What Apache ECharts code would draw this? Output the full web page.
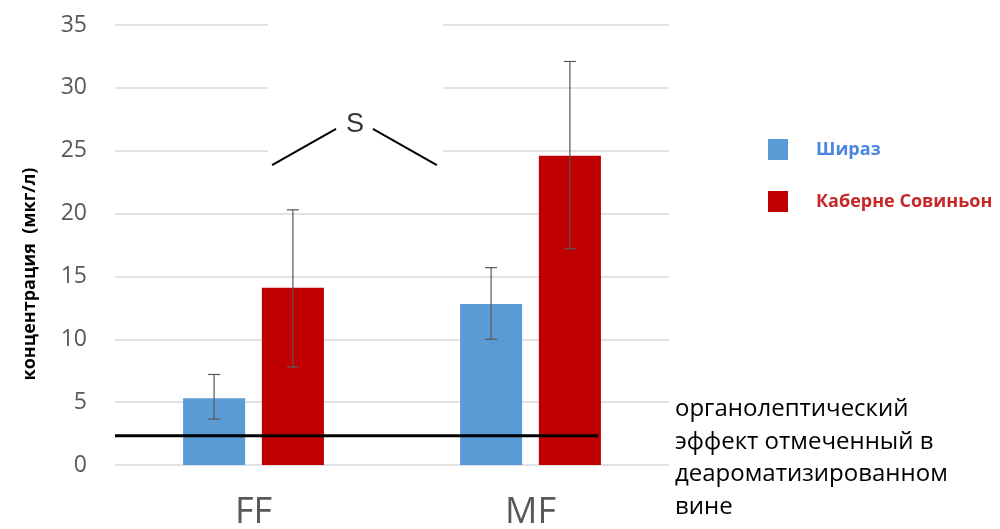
<!DOCTYPE html>
<html>
<head>
<meta charset="utf-8">
<script src="https://cdn.jsdelivr.net/npm/echarts@6/dist/echarts.min.js"></script>
<style>html,body{margin:0;padding:0;background:#fff;}#chart{width:1000px;height:529px;}</style>
</head>
<body>
<div id="chart"></div>
<script>
// ---- data ----
const categories = ['FF', 'MF'];
const seriesNames = ['Шираз', 'Каберне Совиньон'];
const shirazValues = [5.3, 12.8];
const cabernetValues = [14.1, 24.6];
const shirazErrLow = [3.65, 10.0];
const shirazErrHigh = [7.2, 15.7];
const cabernetErrLow = [7.8, 17.2];
const cabernetErrHigh = [20.3, 32.1];
const yTicks = [0, 5, 10, 15, 20, 25, 30, 35];
const thresholdValue = 2.33;
const thresholdSpan = [-0.5, 1.245];           // in category units
const sBracketLeft = [[0.067, 23.86], [0.298, 26.73]];
const sBracketRight = [[0.431, 26.73], [0.662, 23.86]];
const sLabelPos = [0.366, 27.1];
const sLabelText = 'S';
const yAxisTitle = 'концентрация  (мкг/л)';
const noteText = 'органолептический\nэффект отмеченный в\nдеароматизированном\nвине';

// ---- styling ----
const BLUE = '#5b9bd5', RED = '#c00000';
const barWidthPct = 0.224, barGapPct = 0.27;
const font = '"Open Sans", "DejaVu Sans", sans-serif';

function errorSeries(name, low, high, sign) {
  return {
    type: 'custom',
    name: name + '_err',
    xAxisIndex: 0, yAxisIndex: 0,
    z: 5,
    silent: true,
    data: categories.map((c, i) => [i, low[i], high[i]]),
    renderItem: function (params, api) {
      const cw = api.size([1, 0])[0];
      const off = sign * cw * barWidthPct * (1 + barGapPct) / 2;
      const p1 = api.coord([api.value(0), api.value(1)]);
      const p2 = api.coord([api.value(0), api.value(2)]);
      const x = p1[0] + off;
      const cap = 6;
      const st = { stroke: '#595959', lineWidth: 1.2 };
      return {
        type: 'group',
        children: [
          { type: 'line', shape: { x1: x, y1: p1[1], x2: x, y2: p2[1] }, style: st },
          { type: 'line', shape: { x1: x - cap, y1: p1[1], x2: x + cap, y2: p1[1] }, style: st },
          { type: 'line', shape: { x1: x - cap, y1: p2[1], x2: x + cap, y2: p2[1] }, style: st }
        ]
      };
    }
  };
}

const chart = echarts.init(document.getElementById('chart'), null, { renderer: 'canvas' });
chart.setOption({
  backgroundColor: '#ffffff',
  animation: false,
  grid: { left: 115, right: 331, top: 25, bottom: 64, containLabel: false, outerBoundsMode: 'none' },
  legend: {
    orient: 'vertical',
    left: 763, top: 134,
    itemWidth: 20, itemHeight: 21, itemGap: 31,
    icon: 'rect',
    data: [
      { name: seriesNames[0], textStyle: { color: '#4a86e0' } },
      { name: seriesNames[1], textStyle: { color: '#c62828' } }
    ],
    textStyle: { fontSize: 18, fontWeight: 'bold', fontFamily: font, padding: [0, 0, 0, 23] }
  },
  xAxis: [
    {
      type: 'category', data: categories,
      axisLine: { show: false }, axisTick: { show: false },
      axisLabel: { color: '#595959', fontSize: 36, fontFamily: font, margin: 30 }
    },
    {
      type: 'value', min: -0.5, max: 1.5, show: false
    }
  ],
  yAxis: {
    type: 'value', min: yTicks[0], max: yTicks[yTicks.length - 1], interval: 5,
    axisLine: { show: false }, axisTick: { show: false },
    axisLabel: { color: '#595959', fontSize: 23, fontFamily: font, margin: 28 },
    splitLine: { lineStyle: { color: '#d9d9d9', width: 1.5 } }
  },
  graphic: [
    { type: 'rect', z: 1, shape: { x: 268, y: 0, width: 175, height: 178 }, style: { fill: '#ffffff' } },
    {
      type: 'text', x: 30, y: 274, rotation: Math.PI / 2,
      style: { text: yAxisTitle, fill: '#000', font: 'bold 18px ' + font, align: 'center', verticalAlign: 'middle' }
    },
    {
      type: 'text', left: 675, top: 393,
      style: { text: noteText, fill: '#000', font: '24px ' + font, lineHeight: 32.5 }
    }
  ],
  series: [
    {
      name: seriesNames[0], type: 'bar', data: shirazValues,
      barWidth: (barWidthPct * 100) + '%', barGap: (barGapPct * 100) + '%',
      itemStyle: { color: BLUE }, z: 2
    },
    {
      name: seriesNames[1], type: 'bar', data: cabernetValues,
      barWidth: (barWidthPct * 100) + '%', barGap: (barGapPct * 100) + '%',
      itemStyle: { color: RED }, z: 2
    },
    errorSeries(seriesNames[0], shirazErrLow, shirazErrHigh, -1),
    errorSeries(seriesNames[1], cabernetErrLow, cabernetErrHigh, 1),
    {
      name: 'threshold', type: 'line', xAxisIndex: 1, yAxisIndex: 0,
      data: thresholdSpan.map(x => [x, thresholdValue]),
      symbol: 'none', lineStyle: { color: '#000', width: 3 }, z: 6, silent: true
    },
    {
      name: 'sLeft', type: 'line', xAxisIndex: 1, yAxisIndex: 0,
      data: sBracketLeft, symbol: 'none', lineStyle: { color: '#000', width: 2 }, z: 6, silent: true
    },
    {
      name: 'sRight', type: 'line', xAxisIndex: 1, yAxisIndex: 0,
      data: sBracketRight, symbol: 'none', lineStyle: { color: '#000', width: 2 }, z: 6, silent: true
    },
    {
      name: 'sLabel', type: 'scatter', xAxisIndex: 1, yAxisIndex: 0,
      data: [sLabelPos], symbolSize: 0, z: 6, silent: true,
      label: { show: true, position: 'inside', formatter: sLabelText, color: '#000', fontSize: 27, fontFamily: '"Liberation Sans", Arial, sans-serif' }
    }
  ]
});
</script>
</body>
</html>
